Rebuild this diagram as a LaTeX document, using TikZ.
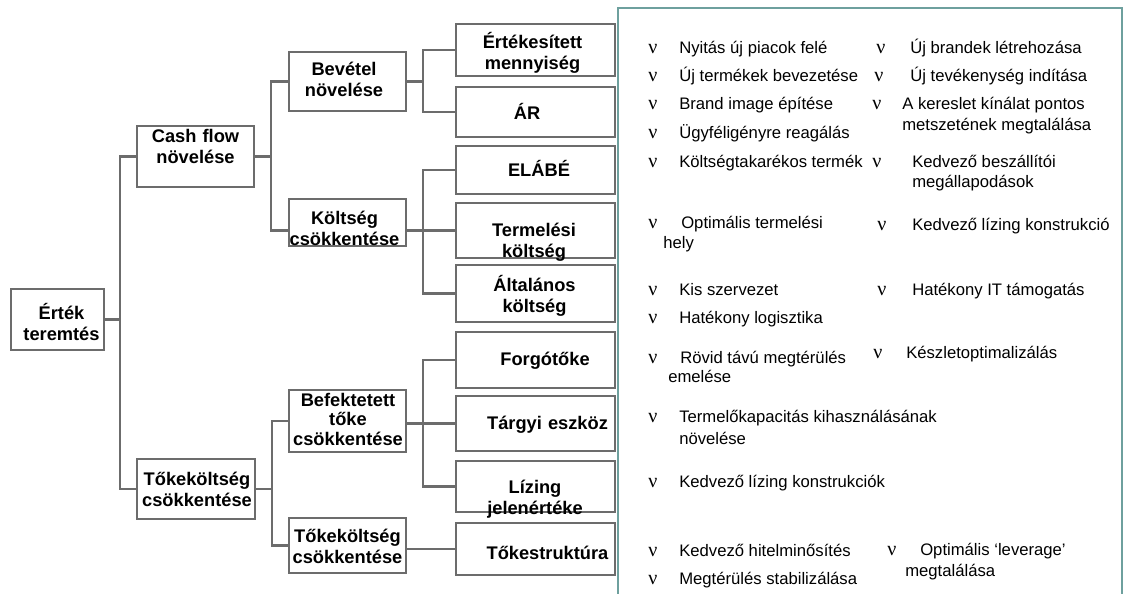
\documentclass[tikz,border=0pt]{standalone}
\usepackage{fontspec}
\setmainfont{Liberation Sans}
\newfontfamily\nufont{Liberation Serif}
\definecolor{boxgray}{RGB}{108,108,108}
\definecolor{panelteal}{RGB}{110,160,158}
\begin{document}
\begin{tikzpicture}[x=0.75pt,y=-0.75pt,
  box/.style={draw=boxgray, line width=2.1pt, inner sep=0pt, rectangle},
  conn/.style={draw=boxgray, line width=2pt},
  btext/.style={font=\fontsize{13.7}{15.8}\selectfont\bfseries, anchor=base,
    align=center, text width=150*0.75pt, inner sep=0pt},
  ptext/.style={font=\fontsize{12.5}{15}\selectfont, anchor=base west, inner sep=0pt},
  nu/.style={font=\nufont\fontsize{15}{15}\selectfont, anchor=base, inner sep=0pt},
  panel/.style={draw=panelteal, line width=1.6pt}]
\useasboundingbox (0,0) rectangle (1127,593);

% ---------- tree boxes ----------
\node[box, minimum width=93*0.75pt,  minimum height=61*0.75pt] (ert)   at (57.5,319.5) {};
\node[box, minimum width=117*0.75pt, minimum height=61*0.75pt] (cash)  at (195.5,156.5) {};
\node[box, minimum width=118*0.75pt, minimum height=60*0.75pt] (toke1) at (196,489) {};
\node[box, minimum width=117*0.75pt, minimum height=59*0.75pt] (bev)   at (347.5,81.5) {};
\node[box, minimum width=117*0.75pt, minimum height=47*0.75pt] (kolt)  at (347.5,222.5) {};
\node[box, minimum width=117*0.75pt, minimum height=62*0.75pt] (bef)   at (347.5,421) {};
\node[box, minimum width=117*0.75pt, minimum height=55*0.75pt] (toke2) at (347.5,545.5) {};
\node[box, minimum width=159*0.75pt, minimum height=52*0.75pt] (ertek) at (535.5,50) {};
\node[box, minimum width=159*0.75pt, minimum height=50*0.75pt] (ar)    at (535.5,112) {};
\node[box, minimum width=159*0.75pt, minimum height=48*0.75pt] (elabe) at (535.5,170) {};
\node[box, minimum width=159*0.75pt, minimum height=55*0.75pt] (term)  at (535.5,230.5) {};
\node[box, minimum width=159*0.75pt, minimum height=57*0.75pt] (alt)   at (535.5,293.5) {};
\node[box, minimum width=159*0.75pt, minimum height=56*0.75pt] (forg)  at (535.5,360) {};
\node[box, minimum width=159*0.75pt, minimum height=55*0.75pt] (targy) at (535.5,423.5) {};
\node[box, minimum width=159*0.75pt, minimum height=51*0.75pt] (liz)   at (535.5,486.5) {};
\node[box, minimum width=159*0.75pt, minimum height=52*0.75pt] (tstr)  at (535.5,549) {};

% ---------- box labels ----------
\node[btext] (ert-t)   at (61.5,319.5)  {Érték\\teremtés};
\node[btext] (cash-t)  at (195.5,142.5) {Cash flow\\növelése};
\node[btext] (toke1-t) at (197,485.5)   {Tőkeköltség\\csökkentése};
\node[btext] (bev-t)   at (344,75.5)    {Bevétel\\növelése};
\node[btext] (kolt-t)  at (344.5,224.5) {Költség\\csökkentése};
\node[btext, font=\fontsize{13.7}{14.6}\selectfont\bfseries] (bef-t) at (348,406.5)
  {Befektetett\\tőke\\csökkentése};
\node[btext] (toke2-t) at (347.5,542.5) {Tőkeköltség\\csökkentése};
\node[btext] (ertek-t) at (532.5,48.5)  {Értékesített\\mennyiség};
\node[btext] (ar-t)    at (527,119.5)   {ÁR};
\node[btext] (elabe-t) at (539,176.5)   {ELÁBÉ};
\node[btext] (term-t)  at (534,236.5)   {Termelési\\költség};
\node[btext] (alt-t)   at (534.5,291.5) {Általános\\költség};
\node[btext] (forg-t)  at (545,365.5)   {Forgótőke};
\node[btext] (targy-t) at (547.5,429.5) {Tárgyi eszköz};
\node[btext] (liz-t)   at (535,493.5)   {Lízing\\jelenértéke};
\node[btext] (tstr-t)  at (547.5,559.5) {Tőkestruktúra};

% ---------- connectors ----------
\coordinate (j0) at (120,319.5);
\coordinate (j1) at (271,156.5);
\coordinate (j2) at (423,81.5);
\coordinate (j3) at (423,230.5);
\coordinate (j4) at (272,489);
\coordinate (j5) at (423,423.5);

\draw[conn] (ert.east) -- (j0);
\draw[conn] (cash.west) -| (j0) |- (toke1.west);

\draw[conn] (cash.east) -- (j1);
\draw[conn] (bev.west) -| (j1) |- (kolt.west |- term.west);

\draw[conn] (bev.east) -- (j2);
\draw[conn] (ertek.west) -| (j2) |- (ar.west);

\draw[conn] (kolt.east |- term.west) -- (term.west);
\draw[conn] (elabe.west) -| (j3) |- (alt.west);

\draw[conn] (toke1.east) -- (j4);
\draw[conn] (bef.west) -| (j4) |- (toke2.west);

\draw[conn] (bef.east |- targy.west) -- (targy.west);
\draw[conn] (forg.west) -| (j5) |- (liz.west);

\draw[conn] (toke2.east |- tstr.west) -- (tstr.west);

% ---------- measures panel ----------
\coordinate (pbl) at (618,596);
\coordinate (ptl) at (618,8);
\coordinate (ptr) at (1122,8);
\coordinate (pbr) at (1122,596);
\draw[panel] (pbl) -- (ptl) -- (ptr) -- (pbr);

% left column
\node[nu] (n1)  at (653,53.5)  {ν};
\node[ptext] (a1) at (679,53.5) {Nyitás új piacok felé};
\node[nu] (n2)  at (653,81.5)  {ν};
\node[ptext] (a2) at (679,81.5) {Új termékek bevezetése};
\node[nu] (n3)  at (653,109.5) {ν};
\node[ptext] (a3) at (679,109.5) {Brand image építése};
\node[nu] (n4)  at (653,138.5) {ν};
\node[ptext] (a4) at (679,138.5) {Ügyféligényre reagálás};
\node[nu] (n5)  at (653,167.5) {ν};
\node[ptext] (a5) at (679,167.5) {Költségtakarékos termék};
\node[nu] (n6)  at (653,228.5) {ν};
\node[ptext] (a6) at (681,228.5) {Optimális termelési};
\node[ptext] (a6b) at (663,248.5) {hely};
\node[nu] (n7)  at (653,295.5) {ν};
\node[ptext] (a7) at (679,295.5) {Kis szervezet};
\node[nu] (n8)  at (653,323.5) {ν};
\node[ptext] (a8) at (679,323.5) {Hatékony logisztika};
\node[nu] (n9)  at (653,363.5) {ν};
\node[ptext] (a9) at (680,363.5) {Rövid távú megtérülés};
\node[ptext] (a9b) at (668,382.5) {emelése};
\node[nu] (n10) at (653,422.5) {ν};
\node[ptext] (a10) at (679,422.5) {Termelőkapacitás kihasználásának};
\node[ptext] (a10b) at (679,444) {növelése};
\node[nu] (n11) at (653,487.5) {ν};
\node[ptext] (a11) at (679,487.5) {Kedvező lízing konstrukciók};
\node[nu] (n12) at (653,556.5) {ν};
\node[ptext] (a12) at (679,556.5) {Kedvező hitelminősítés};
\node[nu] (n13) at (653,584.5) {ν};
\node[ptext] (a13) at (679,584.5) {Megtérülés stabilizálása};

% right column
\node[nu] (m1) at (881,53.5) {ν};
\node[ptext] (b1) at (910,53.5) {Új brandek létrehozása};
\node[nu] (m2) at (879,81.5) {ν};
\node[ptext] (b2) at (910,81.5) {Új tevékenység indítása};
\node[nu] (m3) at (877,109.5) {ν};
\node[ptext] (b3) at (902,109.5) {A kereslet kínálat pontos};
\node[ptext] (b3b) at (902,130.5) {metszetének megtalálása};
\node[nu] (m5) at (877,167.5) {ν};
\node[ptext] (b5) at (912,167.5) {Kedvező beszállítói};
\node[ptext] (b5b) at (912,187.5) {megállapodások};
\node[nu] (m6) at (882,230.5) {ν};
\node[ptext] (b6) at (912,230.5) {Kedvező lízing konstrukció};
\node[nu] (m7) at (882,295.5) {ν};
\node[ptext] (b7) at (912,295.5) {Hatékony IT támogatás};
\node[nu] (m9) at (878,358.5) {ν};
\node[ptext] (b9) at (906,358.5) {Készletoptimalizálás};
\node[nu] (m12) at (892,555.5) {ν};
\node[ptext] (b12) at (920,555.5) {Optimális ‘leverage’};
\node[ptext] (b12b) at (905,576.5) {megtalálása};
\end{tikzpicture}
\end{document}
